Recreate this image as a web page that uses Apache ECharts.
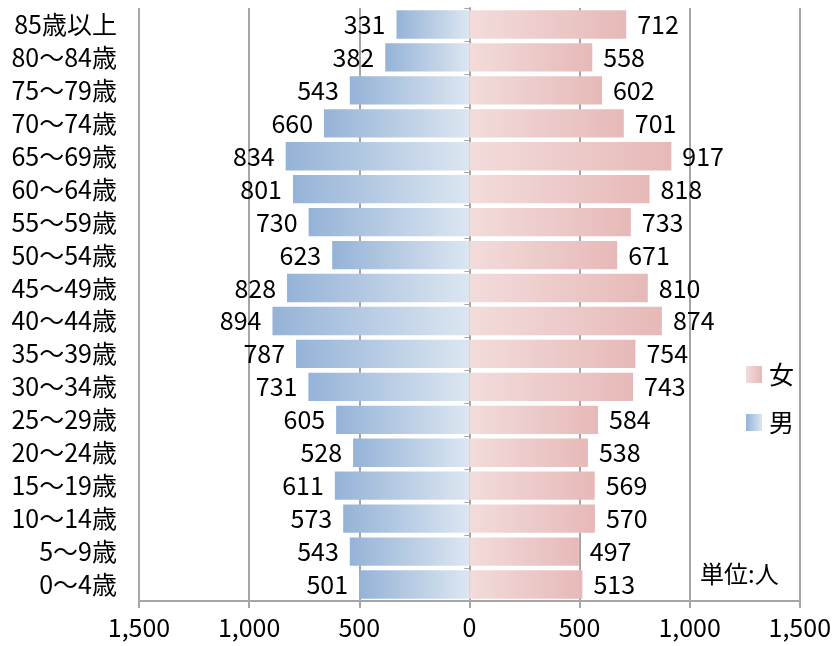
<!DOCTYPE html>
<html>
<head>
<meta charset="utf-8">
<script src="https://cdn.jsdelivr.net/npm/echarts@6/dist/echarts.min.js"></script>
<style>
  html, body { margin: 0; padding: 0; background: #fff; }
  #chart { width: 834px; height: 646px; }
</style>
</head>
<body>
<div id="chart"></div>
<script>
// bottom to top
var ageGroups = ['0～4歳', '5～9歳', '10～14歳', '15～19歳', '20～24歳', '25～29歳',
  '30～34歳', '35～39歳', '40～44歳', '45～49歳', '50～54歳', '55～59歳',
  '60～64歳', '65～69歳', '70～74歳', '75～79歳', '80～84歳', '85歳以上']
var male = [501, 543, 573, 611, 528, 605, 731, 787, 894, 828, 623, 730, 801, 834, 660, 543, 382, 331]
var female = [513, 497, 570, 569, 538, 584, 743, 754, 874, 810, 671, 733, 818, 917, 701, 602, 558, 712]
var xTicks = [-1500, 1500, 500]

var font = '"Noto Sans CJK JP", "Noto Sans", sans-serif'
var gray = '#a6a6a6'

var maleGrad = new echarts.graphic.LinearGradient(0, 0, 1, 0, [
  { offset: 0, color: '#95b3d7' },
  { offset: 1, color: '#dce6f1' }
])
var femaleGrad = new echarts.graphic.LinearGradient(0, 0, 1, 0, [
  { offset: 0, color: '#f2dcdb' },
  { offset: 1, color: '#e6b9b8' }
])

var chart = echarts.init(document.getElementById('chart'))
chart.setOption({
  animation: false,
  grid: { left: 139, right: 33, top: 8, bottom: 45 },
  legend: {
    data: ['女', '男'],
    orient: 'vertical',
    left: 741,
    top: 357,
    itemWidth: 16,
    itemHeight: 17,
    itemGap: 23,
    icon: 'rect',
    textStyle: { fontFamily: font, fontSize: 25, color: '#000', padding: [0, 0, 0, 2] }
  },
  graphic: [{
    type: 'text',
    left: 700,
    top: 562,
    style: { text: '単位:人', font: '24px ' + font, fill: '#000' }
  }],
  xAxis: {
    type: 'value',
    min: xTicks[0],
    max: xTicks[1],
    interval: xTicks[2],
    axisLine: { show: true, lineStyle: { color: gray, width: 2 } },
    axisTick: { show: true, length: 7, lineStyle: { color: gray, width: 2 } },
    splitLine: { lineStyle: { color: gray, width: 2 } },
    axisLabel: {
      margin: 14,
      fontFamily: font,
      fontSize: 25,
      color: '#000',
      formatter: function (v) { return Math.abs(v).toLocaleString('en-US') }
    }
  },
  yAxis: [
    {
      type: 'category',
      data: ageGroups,
      axisLine: { show: false, onZero: false },
      axisTick: { show: false },
      axisLabel: {
        fontFamily: font,
        fontSize: 25,
        color: '#000',
        margin: 22
      }
    },
    {
      type: 'category',
      data: ageGroups,
      position: 'left',
      axisLine: { show: true, onZero: true, lineStyle: { color: gray, width: 2 } },
      axisTick: { show: true, length: 5, lineStyle: { color: gray, width: 1 } },
      axisLabel: { show: false }
    }
  ],
  series: [
    {
      name: '男',
      type: 'bar',
      stack: 'pop',
      barCategoryGap: '14%',
      data: male.map(function (v) { return -v }),
      itemStyle: { color: maleGrad },
      label: {
        show: true,
        position: 'left',
        distance: 11,
        fontFamily: font,
        fontSize: 25,
        color: '#000',
        formatter: function (p) { return Math.abs(p.value) }
      }
    },
    {
      name: '女',
      type: 'bar',
      stack: 'pop',
      barCategoryGap: '14%',
      data: female,
      itemStyle: { color: femaleGrad },
      label: {
        show: true,
        position: 'right',
        distance: 11,
        fontFamily: font,
        fontSize: 25,
        color: '#000'
      }
    }
  ]
})
</script>
</body>
</html>
